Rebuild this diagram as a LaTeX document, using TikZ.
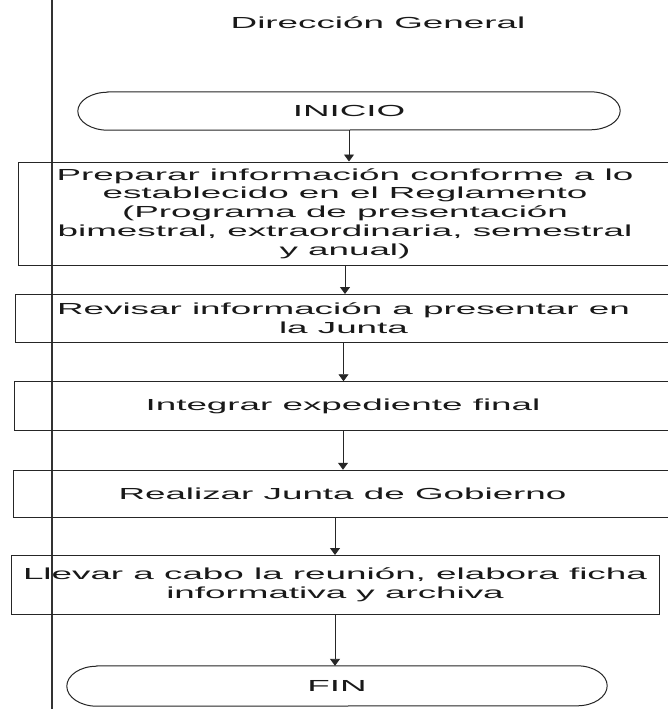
\documentclass[tikz,border=0pt]{standalone}
\usepackage{fontspec}
\setmainfont{Liberation Sans}[FakeStretch=2.3]
\usetikzlibrary{arrows.meta}

\tikzset{
  procbox/.style={draw=black!85,line width=1pt,rectangle,inner sep=0pt,align=center},
  termbox/.style={rectangle,inner sep=0pt},
  termline/.style={draw=black!85,line width=1pt},
  flow/.style={->,line width=0.9pt,draw=black!85}
}

\begin{document}
\begin{tikzpicture}[x=1pt,y=-1pt,>={Triangle[width=10pt,length=7pt]},
    font=\fontsize{16}{18.8}\selectfont,text=black!90]
  % page and lane
  \useasboundingbox (0,0) rectangle (667,709);
  \fill[white] (0,0) rectangle (667,709);
  \draw[line width=1.2pt,black!80] (52,0)--(52,709);
  \node (titulo) at (378,23) {Dirección General};
  % start
  \node[termbox,minimum width=542pt,minimum height=38pt] (inicio) at (349,111) {INICIO};
  \draw[termline] ([xshift=30pt]inicio.north west) -- ([xshift=-30pt]inicio.north east)
    arc[start angle=90,end angle=-90,x radius=30pt,y radius=19pt]
    -- ([xshift=30pt]inicio.south west)
    arc[start angle=270,end angle=90,x radius=30pt,y radius=19pt] -- cycle;
  % steps
  \node[procbox,minimum width=654pt,minimum height=103pt] (preparar) at (345,213.5)
    {Preparar información conforme a lo\\establecido en el Reglamento\\(Programa de presentación\\bimestral, extraordinaria, semestral\\y anual)};
  \node[procbox,minimum width=657pt,minimum height=48pt] (revisar) at (343.5,318.5)
    {Revisar información a presentar en\\la Junta};
  \node[procbox,minimum width=658pt,minimum height=48.5pt] (integrar) at (343,406)
    {Integrar expediente final};
  \node[procbox,minimum width=659pt,minimum height=47.5pt] (realizar) at (342.5,494)
    {Realizar Junta de Gobierno};
  \node[procbox,minimum width=648pt,minimum height=59pt] (llevar) at (335,585)
    {Llevar a cabo la reunión, elabora ficha\\informativa y archiva};
  % end
  \node[termbox,minimum width=540pt,minimum height=40pt] (fin) at (337,686) {FIN};
  \draw[termline] ([xshift=30pt]fin.north west) -- ([xshift=-30pt]fin.north east)
    arc[start angle=90,end angle=-90,x radius=30pt,y radius=20pt]
    -- ([xshift=30pt]fin.south west)
    arc[start angle=270,end angle=90,x radius=30pt,y radius=20pt] -- cycle;
  % arrows
  \draw[flow] (inicio.south) -- (inicio.south |- preparar.north);
  \draw[flow] (preparar.south) -- (preparar.south |- revisar.north);
  \draw[flow] (revisar.south) -- (revisar.south |- integrar.north);
  \draw[flow] (integrar.south) -- (integrar.south |- realizar.north);
  \draw[flow] (realizar.south -| llevar.north) -- (llevar.north);
  \draw[flow] (llevar.south) -- (llevar.south |- fin.north);
\end{tikzpicture}
\end{document}
